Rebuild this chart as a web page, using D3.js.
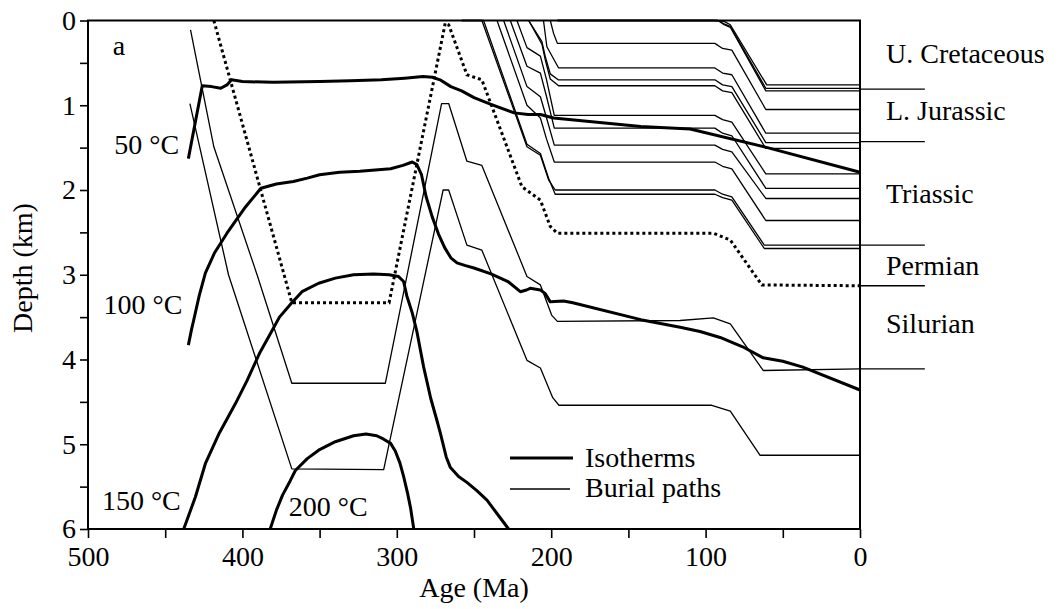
<!DOCTYPE html>
<html><head><meta charset="utf-8">
<script src="https://cdn.jsdelivr.net/npm/d3@7"></script>
<style>
body{margin:0;background:#fff}
text{font-family:"Liberation Serif","Times New Roman",serif;fill:#000}
</style>
</head><body>
<svg id="c" width="1059" height="609"></svg>
<script>
// ---------- DATA ----------
const xTicks = [500,450,400,350,300,250,200,150,100,50,0];
const xTickLabels = [500,400,300,200,100,0];
const yTicks = [0,0.5,1,1.5,2,2.5,3,3.5,4,4.5,5,5.5,6];
const yTickLabels = [0,1,2,3,4,5,6];

// Isotherms: [age Ma, depth km]
const iso50 = [[435,1.63],[426,0.77],[420,0.78],[414,0.80],[410,0.76],[407,0.70],[400,0.72],[380,0.73],[350,0.72],[330,0.71],[310,0.70],[295,0.68],[283,0.66],[277,0.67],[272,0.70],[265,0.78],[258,0.83],[250,0.91],[239,0.99],[224,1.09],[215,1.11],[207,1.11],[198.5,1.15],[142,1.25],[110,1.28],[60,1.50],[0,1.79]];
const iso100 = [[435,3.83],[433,3.65],[431.6,3.54],[428,3.25],[424,2.98],[418,2.74],[410,2.51],[398,2.2],[388,1.98],[378,1.93],[367,1.90],[358,1.86],[350,1.82],[337,1.79],[324,1.78],[304,1.75],[296,1.71],[290,1.67],[287,1.70],[284,1.82],[281,2.08],[277,2.32],[273,2.52],[269,2.68],[265,2.80],[261,2.86],[256,2.89],[250,2.92],[239,2.99],[228,3.08],[220,3.20],[216,3.18],[213.6,3.16],[207,3.18],[204,3.22],[200.6,3.32],[192,3.31],[186,3.33],[142,3.53],[116.5,3.62],[103.6,3.67],[90.6,3.74],[76,3.85],[62.7,3.98],[50,4.02],[37,4.09],[0,4.36]];
const iso150 = [[438,6.0],[430.4,5.62],[424,5.23],[415,4.87],[404.5,4.52],[397,4.25],[389,3.93],[382,3.70],[376,3.50],[368,3.33],[361.4,3.20],[350.6,3.10],[339.8,3.04],[328,3.0],[315,2.99],[305,3.0],[299,3.02],[295.6,3.08],[293.5,3.25],[290,3.45],[287,3.67],[282.6,4.09],[278,4.46],[274,4.72],[271.8,4.87],[268,5.15],[265.4,5.27],[260,5.38],[254.6,5.45],[248,5.55],[241.6,5.66],[235,5.82],[227.6,6.0]];
const iso200 = [[382,6.0],[378,5.78],[374,5.6],[369,5.43],[365.7,5.31],[358,5.17],[350.6,5.07],[339.8,4.97],[328,4.90],[320,4.88],[313,4.90],[308.5,4.94],[304,4.99],[301,5.08],[298,5.22],[295.6,5.38],[293,5.58],[291,5.76],[289,6.0]];
const isoLabels = ["50 °C","100 °C","150 °C","200 °C"];

// Burial paths: [age Ma, depth km]
const pathA = [[434,0.98],[409,3.0],[368,5.29],[308.5,5.30],[270,2.0],[266.4,2.0],[254.6,2.65],[244.9,2.71],[215.7,4.01],[207,4.10],[199,4.45],[195,4.54],[116.5,4.54],[96,4.54],[84,4.61],[64.7,5.13],[0,5.13]];
const pathB = [[433.6,0.11],[418.5,1.49],[390.5,3.0],[368,4.28],[307.4,4.28],[271,0.98],[266.4,0.98],[254.6,1.66],[244.9,1.71],[215.7,3.02],[207,3.12],[199.6,3.48],[196,3.55],[116.5,3.54],[95,3.51],[84,3.58],[62.6,4.13],[0,4.11]];
const pathDotted = [[418.5,0],[368,3.33],[305,3.33],[268.6,0.03],[266.4,0.05],[254.6,0.64],[244.9,0.70],[219,1.96],[207,2.12],[200.6,2.43],[196,2.51],[95,2.51],[84,2.59],[63.6,3.12],[0,3.13]];
const pathT1 = [[196,0],[95,0],[88,0.01],[84,0.05],[60.4,0.76],[0,0.76]];
const pathT2 = [[196,0],[92,0],[88,0.04],[84,0.07],[61,0.80],[0,0.80]];
const pathT3 = [[196,0],[92,0],[88,0.05],[84,0.08],[61,0.83],[0,0.83]];
const pathM1 = [[200.6,0],[198.5,0.15],[196,0.27],[94,0.27],[89,0.33],[83,0.35],[61,1.05],[0,1.05]];
const pathM2 = [[205,0],[202.8,0.31],[195.2,0.56],[94,0.56],[89,0.62],[83,0.64],[61,1.33],[0,1.33]];
const pathM3 = [[214.6,0],[206,0.25],[203.9,0.42],[200.6,0.63],[195.5,0.70],[94,0.70],[89,0.76],[83,0.78],[61,1.44],[0,1.44]];
const pathM4 = [[214.6,0],[206,0.28],[203.9,0.46],[200.6,0.69],[195.2,0.77],[94,0.77],[89,0.83],[83,0.85],[61,1.51],[0,1.51]];
const pathM5 = [[222.2,0],[215.7,0.32],[207,0.42],[203,0.70],[198,1.12],[94,1.12],[89,1.17],[83,1.20],[61,1.81],[0,1.81]];
const pathM6 = [[226.5,0],[215.7,0.54],[207,0.62],[203,0.90],[198,1.27],[94,1.27],[89,1.33],[83,1.36],[61,1.98],[0,1.98]];
const pathM7 = [[230.8,0],[215.7,0.78],[207,0.90],[203,1.15],[198,1.47],[94,1.47],[89,1.52],[83,1.55],[61,2.10],[0,2.10]];
const pathM8 = [[235.1,0],[215.7,1.0],[207,1.15],[203,1.40],[198,1.67],[94,1.67],[89,1.72],[83,1.75],[61,2.36],[0,2.36]];
const pathM9 = [[258,0],[244.9,0],[215.7,1.49],[207,1.59],[201.7,1.88],[197.4,2.0],[94,2.0],[89,2.05],[83,2.08],[62,2.65],[0,2.65]];
const pathM10 = [[258,0],[243.8,0],[215.7,1.46],[207,1.57],[201.7,1.86],[197.4,2.05],[94,2.05],[89,2.09],[83,2.12],[62,2.69],[0,2.69]];

const horizonDepths = [0.81,1.43,2.65,3.13,4.11];
const horizonNames = ["U. Cretaceous","L. Jurassic","Triassic","Permian","Silurian"];
const legendNames = ["Isotherms","Burial paths"];

// ---------- DRAW ----------
const svg = d3.select("#c");
const x = d3.scaleLinear().domain([500,0]).range([88,860]);
const y = d3.scaleLinear().domain([0,6]).range([20.5,529]);
const line = d3.line().x(d=>x(d[0])).y(d=>y(d[1]));
const FS = 28;

// axes
const gx = svg.append("g").attr("transform",`translate(0,${y(6)})`)
  .call(d3.axisBottom(x).tickValues(xTicks).tickSize(9).tickPadding(8)
    .tickFormat(d=> xTickLabels.includes(d) ? d : ""));
const gy = svg.append("g").attr("transform",`translate(${x(500)},0)`)
  .call(d3.axisLeft(y).tickValues(yTicks).tickSize(8).tickPadding(4)
    .tickFormat(d=> yTickLabels.includes(d) ? d : ""));
[gx,gy].forEach(g=>{
  g.select(".domain").remove();
  g.selectAll(".tick line").attr("stroke","#000").attr("stroke-width",1.6);
  g.selectAll(".tick text").attr("font-size",FS).attr("font-family","Liberation Serif").attr("fill","#000");
});

// burial paths (thin)
const thin = [pathA,pathB,pathT1,pathT2,pathT3,pathM1,pathM2,pathM3,pathM4,pathM5,pathM6,pathM7,pathM8,pathM9,pathM10];
svg.append("g").selectAll("path").data(thin).join("path")
  .attr("d",line).attr("fill","none").attr("stroke","#000").attr("stroke-width",1.3).attr("stroke-linejoin","round");

// dotted path
svg.append("path").attr("d",line(pathDotted)).attr("fill","none").attr("stroke","#000")
  .attr("stroke-width",3).attr("stroke-dasharray","3,3");

// horizon marker extensions beyond the right axis
svg.append("g").selectAll("line").data(horizonDepths).join("line")
  .attr("x1",x(0)).attr("x2",x(-42)).attr("y1",d=>y(d)).attr("y2",d=>y(d))
  .attr("stroke","#000").attr("stroke-width",1.3);

// isotherms (thick)
svg.append("g").selectAll("path").data([iso50,iso100,iso150,iso200]).join("path")
  .attr("d",line).attr("fill","none").attr("stroke","#000").attr("stroke-width",3).attr("stroke-linejoin","round");

// frame
svg.append("rect").attr("x",x(500)).attr("y",y(0)).attr("width",x(0)-x(500)).attr("height",y(6)-y(0))
  .attr("fill","none").attr("stroke","#000").attr("stroke-width",2);

// isotherm labels (anchored in data space)
const isoLabelPos = [[483,1.57],[490,3.46],[491,5.78],[370,5.85]];
svg.append("g").selectAll("text").data(isoLabels).join("text")
  .attr("x",(d,i)=>x(isoLabelPos[i][0])).attr("y",(d,i)=>y(isoLabelPos[i][1]))
  .attr("font-size",FS).text(d=>d);

// panel letter
svg.append("text").attr("x",x(484)).attr("y",y(0.41)).attr("font-size",FS).text("a");

// horizon names
const horizonLabelDepth = [0.5,1.17,2.15,3.0,3.69];
svg.append("g").selectAll("text").data(horizonNames).join("text")
  .attr("x",886).attr("y",(d,i)=>y(horizonLabelDepth[i])).attr("font-size",FS).text(d=>d);

// legend
const lg = svg.append("g");
lg.append("line").attr("x1",510).attr("x2",573).attr("y1",458).attr("y2",458).attr("stroke","#000").attr("stroke-width",3.2);
lg.append("line").attr("x1",510).attr("x2",570).attr("y1",489).attr("y2",489).attr("stroke","#000").attr("stroke-width",1.3);
lg.selectAll("text").data(legendNames).join("text")
  .attr("x",585).attr("y",(d,i)=>467+i*30).attr("font-size",FS).text(d=>d);

// axis titles
svg.append("text").attr("x",(x(500)+x(0))/2).attr("y",597).attr("text-anchor","middle").attr("font-size",FS).text("Age (Ma)");
svg.append("text").attr("transform","translate(32,268) rotate(-90)").attr("text-anchor","middle").attr("font-size",FS).text("Depth (km)");
</script>
</body></html>
